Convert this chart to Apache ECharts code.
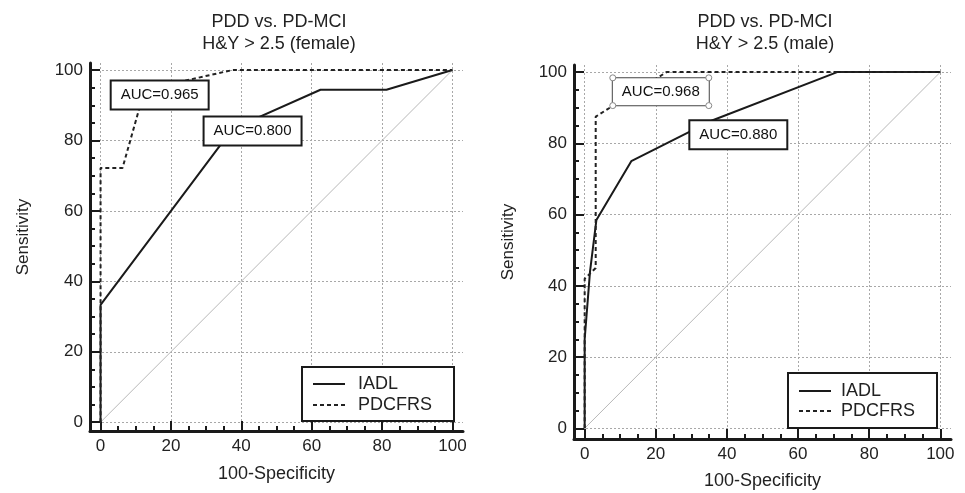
<!DOCTYPE html>
<html>
<head>
<meta charset="utf-8">
<script src="https://cdn.jsdelivr.net/npm/echarts@6/dist/echarts.min.js"></script>
<style>html,body{margin:0;padding:0;background:#fff}#c{width:965px;height:493px}</style>
</head>
<body>
<div id="c"></div>
<script>
// ---- data ----
const majorTicks = [0, 20, 40, 60, 80, 100];
const minorTicks = [5, 10, 15, 25, 30, 35, 45, 50, 55, 65, 70, 75, 85, 90, 95];
const seriesNames = ['IADL', 'PDCFRS'];
const femaleIADL = [[0, 0], [0, 33.3], [37.5, 83.3], [62.5, 94.4], [81.25, 94.4], [100, 100]];
const femalePDCFRS = [[0, 0], [0, 72.2], [6.25, 72.2], [12.5, 94.4], [37.5, 100], [100, 100]];
const maleIADL = [[0, 0], [0, 25], [1.5, 44], [3.3, 58.5], [13.1, 75], [36, 86.5], [71, 100], [100, 100]];
const malePDCFRS = [[0, 0], [0, 42], [3.1, 45], [3.1, 87.5], [23, 100], [100, 100]];
const chanceLine = [[0, 0], [100, 100]];
const panelTitles = ['PDD vs. PD-MCI\nH&Y > 2.5 (female)', 'PDD vs. PD-MCI\nH&Y > 2.5 (male)'];
const aucTexts = [['AUC=0.965', 'AUC=0.800'], ['AUC=0.968', 'AUC=0.880']];
const xName = '100-Specificity';
const yName = 'Sensitivity';

// ---- layout (positions / styles) ----
const aucAnchors = [[[16.8, 92.9], [43.2, 82.7]], [[21.4, 94.5], [43.2, 82.4]]];
const handleAnchors = [[7.9, 98.4], [34.9, 98.4], [7.9, 90.6], [34.9, 90.6]];
const panels = [
  { grid: { left: 90, top: 63, width: 373, height: 368 }, yMin: -2.5, titleX: 279, xGap: 34, yGap: 58,
    legend: { left: 302, top: 367, padding: [7, 22, 6, 10], itemGap: 1, textPad: 8 } },
  { grid: { left: 574, top: 65, width: 377, height: 374 }, yMin: -3, titleX: 765, xGap: 33, yGap: 57,
    legend: { left: 788, top: 373, padding: [8, 22, 7, 10], itemGap: 0, textPad: 5 } }
];
const panelData = [[femaleIADL, femalePDCFRS], [maleIADL, malePDCFRS]];
const FONT = 'Liberation Sans, Arial, sans-serif';
const INK = '#1a1a1a';
const gridLine = { show: true, lineStyle: { color: '#a8a8a8', width: 1, type: [2, 2] } };

const grids = [], xAxes = [], yAxes = [], series = [], legends = [], graphics = [];
panels.forEach((p, i) => {
  grids.push(Object.assign({ outerBoundsMode: 'none', containLabel: false }, p.grid));
  const axisCommon = (dim) => ({
    gridIndex: i, type: 'value',
    min: dim === 'x' ? -3 : p.yMin, max: dim === 'x' ? 103 : 102,
    position: dim === 'x' ? 'bottom' : 'left'
  });
  xAxes.push(Object.assign(axisCommon('x'), {
    axisLine: { show: true, onZero: false, lineStyle: { color: INK, width: 3 } },
    axisTick: { show: true, inside: true, length: 10, customValues: majorTicks, lineStyle: { color: INK, width: 2 } },
    axisLabel: { show: true, customValues: majorTicks, fontSize: 17, color: '#222', margin: 7, fontFamily: FONT },
    splitLine: gridLine,
    name: xName, nameLocation: 'middle', nameGap: p.xGap,
    nameTextStyle: { fontSize: 18, color: '#222', fontFamily: FONT }
  }));
  xAxes.push(Object.assign(axisCommon('x'), {
    axisLine: { show: false, onZero: false },
    axisTick: { show: true, inside: true, length: 5, customValues: minorTicks, lineStyle: { color: INK, width: 2 } },
    axisLabel: { show: false }, splitLine: { show: false }
  }));
  yAxes.push(Object.assign(axisCommon('y'), {
    axisLine: { show: true, onZero: false, lineStyle: { color: INK, width: 3 } },
    axisTick: { show: true, inside: true, length: 10, customValues: majorTicks, lineStyle: { color: INK, width: 2 } },
    axisLabel: { show: true, customValues: majorTicks, fontSize: 17, color: '#222', margin: 7, fontFamily: FONT },
    splitLine: gridLine,
    name: yName, nameLocation: 'middle', nameGap: p.yGap,
    nameTextStyle: { fontSize: 17, color: '#222', fontFamily: FONT, padding: [0, 0, 0, 20] }
  }));
  yAxes.push(Object.assign(axisCommon('y'), {
    axisLine: { show: false, onZero: false },
    axisTick: { show: true, inside: true, length: 5, customValues: minorTicks, lineStyle: { color: INK, width: 2 } },
    axisLabel: { show: false }, splitLine: { show: false }
  }));
  const xi = 2 * i, yi = 2 * i;
  series.push({
    type: 'line', name: 'chance', xAxisIndex: xi, yAxisIndex: yi, data: chanceLine, symbol: 'none',
    lineStyle: { color: '#b8b8b8', width: 1 }, z: 2, silent: true
  });
  series.push({
    type: 'line', name: seriesNames[0], xAxisIndex: xi, yAxisIndex: yi, data: panelData[i][0], symbol: 'none',
    lineStyle: { color: INK, width: 2 }, itemStyle: { color: INK }, z: 3
  });
  series.push({
    type: 'line', name: seriesNames[1], xAxisIndex: xi, yAxisIndex: yi, data: panelData[i][1], symbol: 'none',
    lineStyle: { color: '#222', width: 2, type: [4, 3] }, itemStyle: { color: '#222' }, z: 3
  });
  series.push({
    type: 'scatter', name: 'auc' + i, xAxisIndex: xi, yAxisIndex: yi, silent: true, z: 10,
    symbol: 'rect', symbolSize: 1, itemStyle: { color: 'rgba(0,0,0,0)', opacity: 1 },
    data: aucTexts[i].map((t, k) => ({ name: t, value: aucAnchors[i][k],
      label: (i === 1 && k === 0) ? { borderWidth: 1, borderColor: '#444' } : {} })),
    label: {
      show: true, position: 'inside', formatter: '{b}', fontSize: 15, color: '#111', fontFamily: FONT,
      backgroundColor: '#fff', borderColor: INK, borderWidth: 2, padding: [5, 9], lineHeight: 17,
      opacity: 1, textBorderWidth: 0
    },
    labelLayout: { hideOverlap: false }
  });
  if (i === 1) {
    series.push({
      type: 'scatter', name: 'handles', xAxisIndex: xi, yAxisIndex: yi, silent: true, z: 11,
      symbol: 'circle', symbolSize: 6, data: handleAnchors,
      itemStyle: { color: '#fff', borderColor: '#888', borderWidth: 1, opacity: 1 }
    });
  }
  legends.push({
    orient: 'vertical', left: p.legend.left, top: p.legend.top, data: seriesNames,
    padding: p.legend.padding, itemWidth: 32, itemHeight: 14, itemGap: p.legend.itemGap,
    borderColor: INK, borderWidth: 2, backgroundColor: '#fff', selectedMode: false, z: 8,
    itemStyle: { opacity: 0 },
    textStyle: { fontSize: 18, color: '#222', fontFamily: FONT, lineHeight: 20, padding: [0, 0, 0, p.legend.textPad] }
  });
  graphics.push({
    type: 'text', x: p.titleX, y: 11, silent: true,
    style: { text: panelTitles[i], textAlign: 'center', verticalAlign: 'top', fill: '#222',
      font: '18px ' + FONT, lineHeight: 22 }
  });
});

const chart = echarts.init(document.getElementById('c'), null, { renderer: 'canvas' });
chart.setOption({
  animation: false,
  backgroundColor: '#fff',
  textStyle: { fontFamily: FONT },
  grid: grids, xAxis: xAxes, yAxis: yAxes, series: series, legend: legends, graphic: graphics
});
</script>
</body>
</html>
